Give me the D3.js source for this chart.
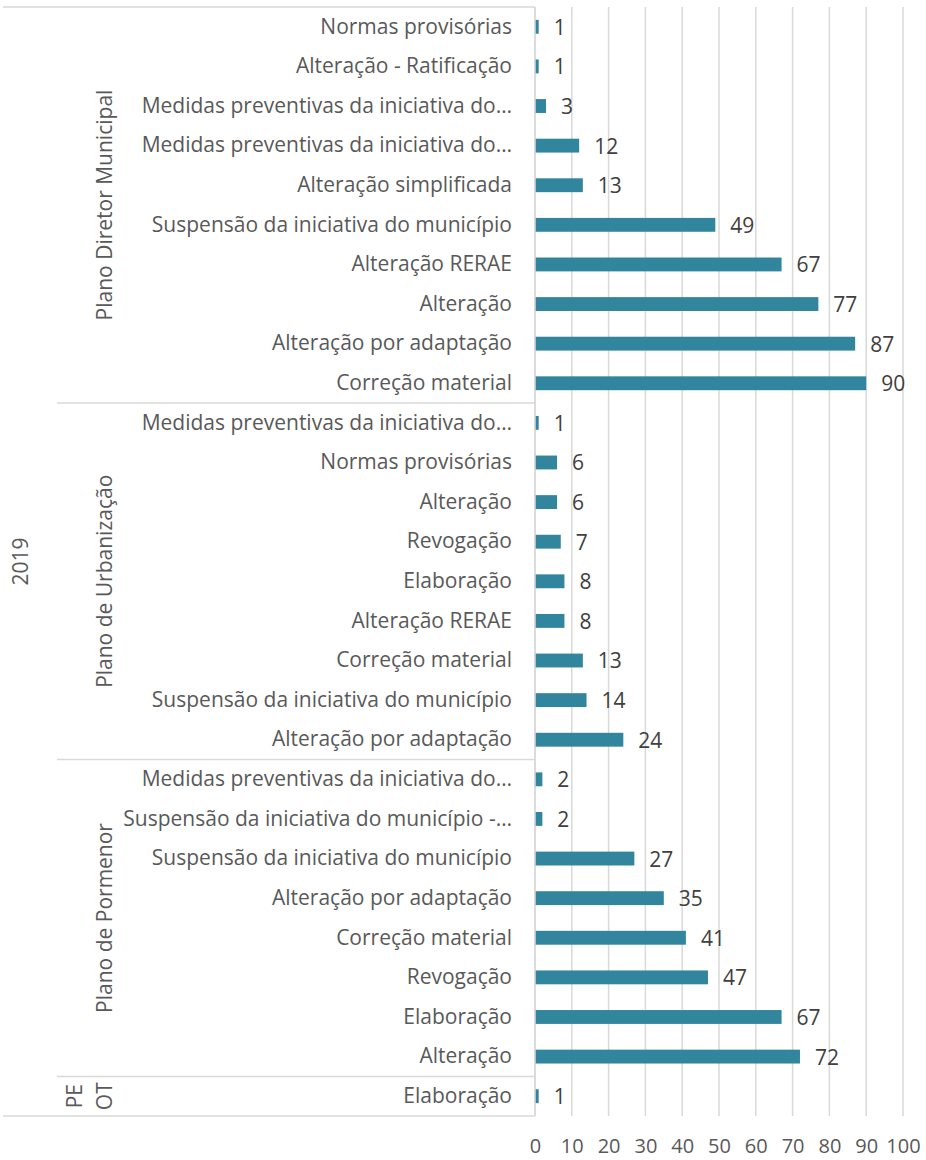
<!DOCTYPE html>
<html><head><meta charset="utf-8">
<script src="https://cdn.jsdelivr.net/npm/d3@7"></script>
<style>
body{margin:0;background:#fff}
text{font-family:"Open Sans",sans-serif;fill:#595959}
</style>
</head><body>
<svg id="c" width="926" height="1160"></svg>
<script>
const yearLabel = "2019";
const groupNames = ["Plano Diretor Municipal","Plano de Urbanização","Plano de Pormenor","PEOT"];
const groupLabelLines = [["Plano Diretor Municipal"],["Plano de Urbanização"],["Plano de Pormenor"],["PE","OT"]];

const pdmCategories = ["Normas provisórias","Alteração - Ratificação","Medidas preventivas da iniciativa do…","Medidas preventivas da iniciativa do…","Alteração simplificada","Suspensão da iniciativa do município","Alteração RERAE","Alteração","Alteração por adaptação","Correção material"];
const pdmValues = [1,1,3,12,13,49,67,77,87,90];

const puCategories = ["Medidas preventivas da iniciativa do…","Normas provisórias","Alteração","Revogação","Elaboração","Alteração RERAE","Correção material","Suspensão da iniciativa do município","Alteração por adaptação"];
const puValues = [1,6,6,7,8,8,13,14,24];

const ppCategories = ["Medidas preventivas da iniciativa do…","Suspensão da iniciativa do município -…","Suspensão da iniciativa do município","Alteração por adaptação","Correção material","Revogação","Elaboração","Alteração"];
const ppValues = [2,2,27,35,41,47,67,72];

const peotCategories = ["Elaboração"];
const peotValues = [1];

const xTicks = [0,10,20,30,40,50,60,70,80,90,100];

(function(){
const groupCats = [pdmCategories, puCategories, ppCategories, peotCategories];
const groupVals = [pdmValues, puValues, ppValues, peotValues];

const rows = [];
groupCats.forEach((cats, g) => cats.forEach((c, i) => rows.push({id: rows.length, group: g, label: c, value: groupVals[g][i]})));

const FS = 21, NFS = 20, DFS = 21;
const pL = 535, pR = 903, pT = 7, pB = 1116;
const svg = d3.select("#c");
const x = d3.scaleLinear().domain([0,100]).range([pL,pR]);
const y = d3.scaleBand().domain(rows.map(r=>r.id)).range([pT,pB]).paddingInner(0.65).paddingOuter(0.325);
const step = y.step();
const grid = "#d9d9d9";

svg.append("g").selectAll("line").data(xTicks).join("line")
  .attr("x1", d=>x(d)).attr("x2", d=>x(d)).attr("y1", pT).attr("y2", pB)
  .attr("stroke", grid).attr("stroke-width", 1.5);

svg.append("g").selectAll("rect").data(rows).join("rect")
  .attr("x", x(0)).attr("y", d=>y(d.id)).attr("width", d=>x(d.value)-x(0)).attr("height", y.bandwidth())
  .attr("fill", "#31859c");

svg.append("g").selectAll("text").data(rows).join("text")
  .attr("x", d=>x(d.value)+15).attr("y", d=>y(d.id)+y.bandwidth()/2).attr("dy","0.38em")
  .attr("font-size", DFS).style("fill","#404040").text(d=>d.value);

const yAxis = d3.axisLeft(y).tickFormat(i=>rows[i].label).tickSize(0).tickPadding(23);
const ya = svg.append("g").attr("transform",`translate(${pL},0)`).call(yAxis);
ya.select(".domain").remove();
ya.selectAll("text").attr("font-size", FS).style("font-family",'"Open Sans",sans-serif').attr("fill","#595959");

svg.append("line").attr("x1",pL).attr("x2",pL).attr("y1",pT).attr("y2",pB).attr("stroke",grid).attr("stroke-width",1.5);

[pT,pB].forEach(v=>svg.append("line").attr("x1",3).attr("x2",pL).attr("y1",v).attr("y2",v).attr("stroke",grid).attr("stroke-width",1.5));

let start = 0;
groupCats.forEach((cats,g)=>{
  const y0 = pT + start*step;
  const y1 = pT + (start+cats.length)*step;
  if (g>0) svg.append("line").attr("x1",57).attr("x2",pL).attr("y1",y0).attr("y2",y0).attr("stroke",grid).attr("stroke-width",1.5);
  const lines = groupLabelLines[g];
  const cy = (y0+y1)/2;
  lines.forEach((ln,k)=>{
    const cx = 104 - (lines.length-1-k)*30;
    svg.append("text").attr("transform",`translate(${cx},${cy}) rotate(-90)`)
      .attr("text-anchor","middle").attr("dy","0.36em").attr("font-size",FS).text(ln);
  });
  start += cats.length;
});

svg.append("text").attr("transform",`translate(20,${(pT+pB)/2}) rotate(-90)`)
  .attr("text-anchor","middle").attr("dy","0.36em").attr("font-size",FS).text(yearLabel);

const xAxis = d3.axisBottom(x).tickValues(xTicks).tickSize(0).tickPadding(23);
const xa = svg.append("g").attr("transform",`translate(0,${pB})`).call(xAxis);
xa.select(".domain").remove();
xa.selectAll("text").attr("font-size", NFS).style("font-family",'"Open Sans",sans-serif').attr("fill","#595959");
})();
</script>
</body></html>
